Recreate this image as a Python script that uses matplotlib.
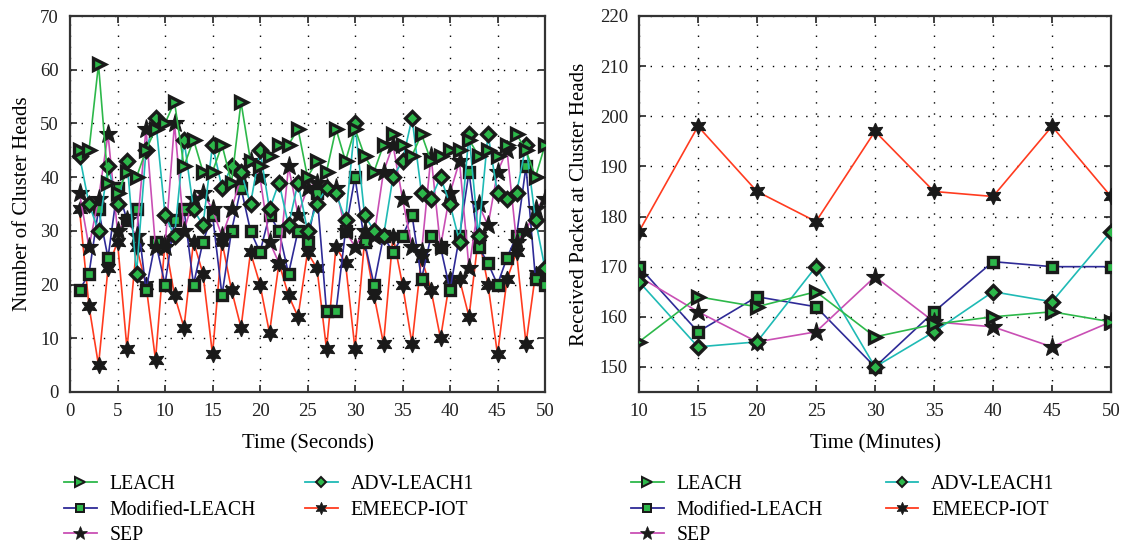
import matplotlib
matplotlib.use("Agg")
import matplotlib.pyplot as plt
from matplotlib.lines import Line2D
import numpy as np

plt.rcParams['font.family'] = ['Liberation Serif', 'DejaVu Serif']

# ---------------- data ----------------
t_seconds = list(range(1, 51))
leach_ch = [45, 45, 61, 39, 37, 41, 40, 45, 49, 50, 54, 42, 47, 41, 41, 46, 39, 54, 43, 42,
            44, 46, 46, 49, 40, 43, 41, 49, 43, 49, 44, 41, 46, 48, 46, 44, 48, 43, 44, 45,
            45, 47, 44, 45, 44, 46, 48, 45, 40, 46]
adv_ch = [44, 35, 30, 42, 35, 43, 22, 45, 51, 33, 29, 47, 34, 31, 46, 38, 42, 41, 35, 45,
          34, 39, 31, 39, 30, 35, 38, 37, 32, 50, 33, 30, 29, 40, 43, 51, 37, 36, 40, 35,
          28, 48, 29, 48, 37, 36, 37, 46, 32, 23]
mod_ch = [19, 22, 34, 25, 38, 32, 34, 19, 28, 20, 32, 34, 20, 28, 33, 18, 30, 38, 30, 26,
          33, 30, 22, 30, 28, 37, 15, 15, 30, 40, 28, 20, 29, 26, 29, 33, 21, 29, 27, 19,
          29, 41, 27, 24, 20, 25, 29, 42, 21, 20]
sep_ch = [37, 27, 36, 48, 30, 32, 29, 49, 27, 27, 50, 30, 36, 37, 34, 29, 34, 40, 43, 40,
          28, 24, 42, 33, 38, 39, 38, 38, 30, 27, 30, 29, 41, 46, 36, 27, 26, 44, 27, 37,
          43, 23, 35, 31, 41, 45, 28, 30, 34, 36]
emeecp_ch = [34, 16, 5, 23, 28, 8, 27, 20, 6, 28, 18, 12, 28, 22, 7, 28, 19, 12, 26, 20,
             11, 24, 18, 14, 26, 23, 8, 27, 24, 8, 28, 18, 9, 29, 20, 9, 25, 19, 10, 21,
             21, 14, 29, 20, 7, 21, 26, 9, 22, 21]

t_minutes = [10, 15, 20, 25, 30, 35, 40, 45, 50]
leach_rx = [155, 164, 162, 165, 156, 158.5, 160, 161, 159]
adv_rx = [167, 154, 155, 170, 150, 157, 165, 163, 177]
mod_rx = [170, 157, 164, 162, 150, 161, 171, 170, 170]
sep_rx = [168, 161, 155, 157, 168, 159, 158, 154, 159]
emeecp_rx = [177, 198, 185, 179, 197, 185, 184, 198, 184]

labels = ['LEACH', 'Modified-LEACH', 'SEP', 'ADV-LEACH1', 'EMEECP-IOT']

# ---------------- styles ----------------
hexstar = (6, 1, 0)
styles = {
    'LEACH': dict(color='#2db84a', marker='>', mfc='#2db84a', mec='#1a1a1a', ms=9, mew=2.4),
    'Modified-LEACH': dict(color='#2e2a96', marker='s', mfc='#2db84a', mec='#1a1a1a', ms=7.5, mew=2.4),
    'SEP': dict(color='#c94fb4', marker='*', mfc='#1a1a1a', mec='#1a1a1a', ms=14, mew=0.8),
    'ADV-LEACH1': dict(color='#1fbab5', marker='D', mfc='#2db84a', mec='#1a1a1a', ms=7, mew=2.4),
    'EMEECP-IOT': dict(color='#ff3b1f', marker=hexstar, mfc='#1a1a1a', mec='#1a1a1a', ms=12, mew=0.8),
}

fig = plt.figure(figsize=(11.25, 5.47), dpi=100)
ax1 = fig.add_axes([70 / 1125, 1 - 392 / 547, (545 - 70) / 1125, (392 - 16) / 547])
ax2 = fig.add_axes([639 / 1125, 1 - 392 / 547, (1111 - 639) / 1125, (392 - 16) / 547])


def draw(ax, x, series):
    for name in ['EMEECP-IOT', 'Modified-LEACH', 'SEP', 'ADV-LEACH1', 'LEACH']:
        st = styles[name]
        ax.plot(x, series[name], color=st['color'], lw=1.2, marker=st['marker'],
                markerfacecolor=st['mfc'], markeredgecolor=st['mec'],
                markersize=st['ms'], markeredgewidth=st['mew'], zorder=3)


draw(ax1, t_seconds, {'LEACH': leach_ch, 'ADV-LEACH1': adv_ch, 'Modified-LEACH': mod_ch,
                      'SEP': sep_ch, 'EMEECP-IOT': emeecp_ch})
draw(ax2, t_minutes, {'LEACH': leach_rx, 'ADV-LEACH1': adv_rx, 'Modified-LEACH': mod_rx,
                      'SEP': sep_rx, 'EMEECP-IOT': emeecp_rx})

ax1.set_xlim(0, 50)
ax1.set_ylim(0, 70)
ax1.set_xticks(range(0, 51, 5))
ax1.set_yticks(range(0, 71, 10))
ax1.set_xlabel('Time (Seconds)', fontsize=15, labelpad=10)
ax1.set_ylabel('Number of Cluster Heads', fontsize=15, labelpad=6)

ax2.set_xlim(10, 50)
ax2.set_ylim(145, 220)
ax2.set_xticks(range(10, 51, 5))
ax2.set_yticks(range(150, 221, 10))
ax2.set_xlabel('Time (Minutes)', fontsize=15, labelpad=10)
ax2.set_ylabel('Received Packet at Cluster Heads', fontsize=15, labelpad=8)

for ax in (ax1, ax2):
    ax.grid(True, color='black', linestyle=(0, (1, 7)), linewidth=1.0)
    ax.tick_params(direction='in', top=True, right=True, length=5, width=1.2,
                   labelsize=13.5, colors='#222222')
    ax.tick_params(axis='x', pad=8)
    ax.tick_params(axis='y', pad=8)
    for sp in ax.spines.values():
        sp.set_linewidth(1.6)
        sp.set_color('#333333')

# legends
def handles():
    hs = []
    for name in labels:
        st = styles[name]
        hs.append(Line2D([], [], color=st['color'], lw=1.3, marker=st['marker'],
                         markerfacecolor=st['mfc'], markeredgecolor=st['mec'],
                         markersize=st['ms'] * 0.75, markeredgewidth=st['mew'] * 0.6))
    return hs

for xpos, colsp in ((64 / 1125, 2.5), (631 / 1125, 3.2)):
    fig.legend(handles(), labels, loc='upper left', bbox_to_anchor=(xpos, 1 - 475 / 547),
               ncol=2, frameon=False, fontsize=14.2, handlelength=1.65, handletextpad=0.65,
               columnspacing=colsp, labelspacing=0.33, borderaxespad=0, borderpad=0)

fig.savefig('out.png', dpi=100)
